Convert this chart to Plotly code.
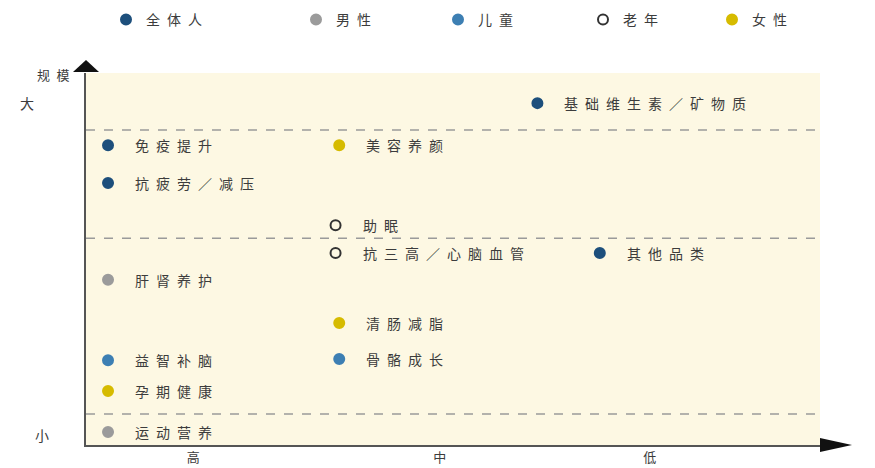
import plotly.graph_objects as go

# ---- data -------------------------------------------------------------
series = ["全体人", "男性", "儿童", "老年", "女性"]

labels = ["基础维生素／矿物质", "免疫提升", "抗疲劳／减压", "美容养颜", "助眠",
          "抗三高／心脑血管", "其他品类", "肝肾养护", "清肠减脂", "益智补脑",
          "骨骼成长", "孕期健康", "运动营养"]
groups = ["全体人", "全体人", "全体人", "女性", "老年",
          "老年", "全体人", "男性", "女性", "儿童",
          "儿童", "女性", "男性"]
# x: concentration (0 = high ... 100 = low), y: market size (0 = small ... 100 = large)
x_vals = [61.5, 3, 3, 34.5, 34, 34, 70, 3, 34.5, 3, 34.5, 3, 3]
y_vals = [91.9, 80.6, 70.4, 80.6, 59.1, 51.6, 51.6, 44.4, 32.8, 22.8, 23.1, 14.5, 3.5]

x_tick_vals = [14.6, 48.2, 76.8]
x_tick_text = ["高", "中", "低"]
y_tick_vals = [91.9, 2.7]
y_tick_text = ["大", "小"]
tier_lines = [84.7, 55.6, 8.3]

# ---- styles -------------------------------------------------------------
FONT = "Noto Sans CJK SC"
TEXT_C = "#3c3c3c"
colors = {"全体人": "#1d4f7c", "男性": "#9b9b9b", "儿童": "#3d7fb3",
          "老年": "#333333", "女性": "#d6bb00"}
symbols = {"全体人": "circle", "男性": "circle", "儿童": "circle",
           "老年": "circle-open", "女性": "circle"}
legend_px = [106, 296, 438, 583, 712]


def spaced(s):
    return "\u2002".join(s)


fig = go.Figure()

for i, s in enumerate(series):
    xs = [x for x, g in zip(x_vals, groups) if g == s]
    ys = [y for y, g in zip(y_vals, groups) if g == s]
    lg = "legend" if i == 0 else f"legend{i + 1}"
    fig.add_trace(go.Scatter(
        x=xs, y=ys, mode="markers", name=spaced(s), legend=lg,
        marker=dict(symbol=symbols[s], size=10, color=colors[s],
                    line=dict(width=2, color=colors[s])),
        cliponaxis=False, hoverinfo="skip"))

# point labels
for lab, x, y in zip(labels, x_vals, y_vals):
    fig.add_annotation(x=x, y=y, text=spaced(lab), showarrow=False,
                       xanchor="left", yanchor="middle", xshift=25,
                       font=dict(family=FONT, size=14, color=TEXT_C))

# tier separators
for yv in tier_lines:
    fig.add_shape(type="line", xref="paper", x0=0, x1=1, yref="y", y0=yv, y1=yv,
                  line=dict(color="#9a9a9a", width=1.5, dash="dash"), layer="above")

# size labels on the left
for yv, t, xp in zip(y_tick_vals, y_tick_text, [-0.093, -0.072]):
    fig.add_annotation(xref="paper", x=xp, y=yv, text=t, showarrow=False,
                       font=dict(family=FONT, size=14, color=TEXT_C))
fig.add_annotation(xref="paper", yref="paper", x=-0.069, y=1.027, text=spaced("规模"),
                   showarrow=False, font=dict(family=FONT, size=13, color=TEXT_C))

# axis arrowheads
fig.add_shape(type="path", xref="paper", yref="paper",
              path="M 0 1.0349 L -0.0177 1.0027 L 0.0177 1.0027 Z",
              fillcolor="#111111", line=dict(width=0))
fig.add_shape(type="path", xref="paper", yref="paper",
              path="M 1.0436 0 L 1.0 0.0188 L 1.0 -0.0188 Z",
              fillcolor="#111111", line=dict(width=0))

legend_common = dict(orientation="h", xref="container", yref="container",
                     xanchor="left", yanchor="middle", y=1 - 20 / 468,
                     bgcolor="rgba(0,0,0,0)",
                     font=dict(family=FONT, size=14, color=TEXT_C))
layout_legends = {}
for i, px in enumerate(legend_px):
    key = "legend" if i == 0 else f"legend{i + 1}"
    layout_legends[key] = dict(legend_common, x=px / 875)

fig.update_layout(
    width=875, height=468,
    margin=dict(l=86, r=55, t=73, b=23, autoexpand=False),
    paper_bgcolor="white", plot_bgcolor="#fdf8e3",
    showlegend=True,
    xaxis=dict(range=[0, 100], showgrid=False, zeroline=False, automargin=False,
               showline=True, linecolor="#555555", linewidth=1.5,
               tickvals=x_tick_vals, ticktext=x_tick_text, ticks="",
               ticklabelstandoff=0,
               tickfont=dict(family=FONT, size=13, color=TEXT_C), fixedrange=True),
    yaxis=dict(range=[0, 100], showgrid=False, zeroline=False, automargin=False,
               showline=True, linecolor="#555555", linewidth=1.5,
               showticklabels=False, ticks="", fixedrange=True),
    **layout_legends,
)

fig.write_html("out.html")
